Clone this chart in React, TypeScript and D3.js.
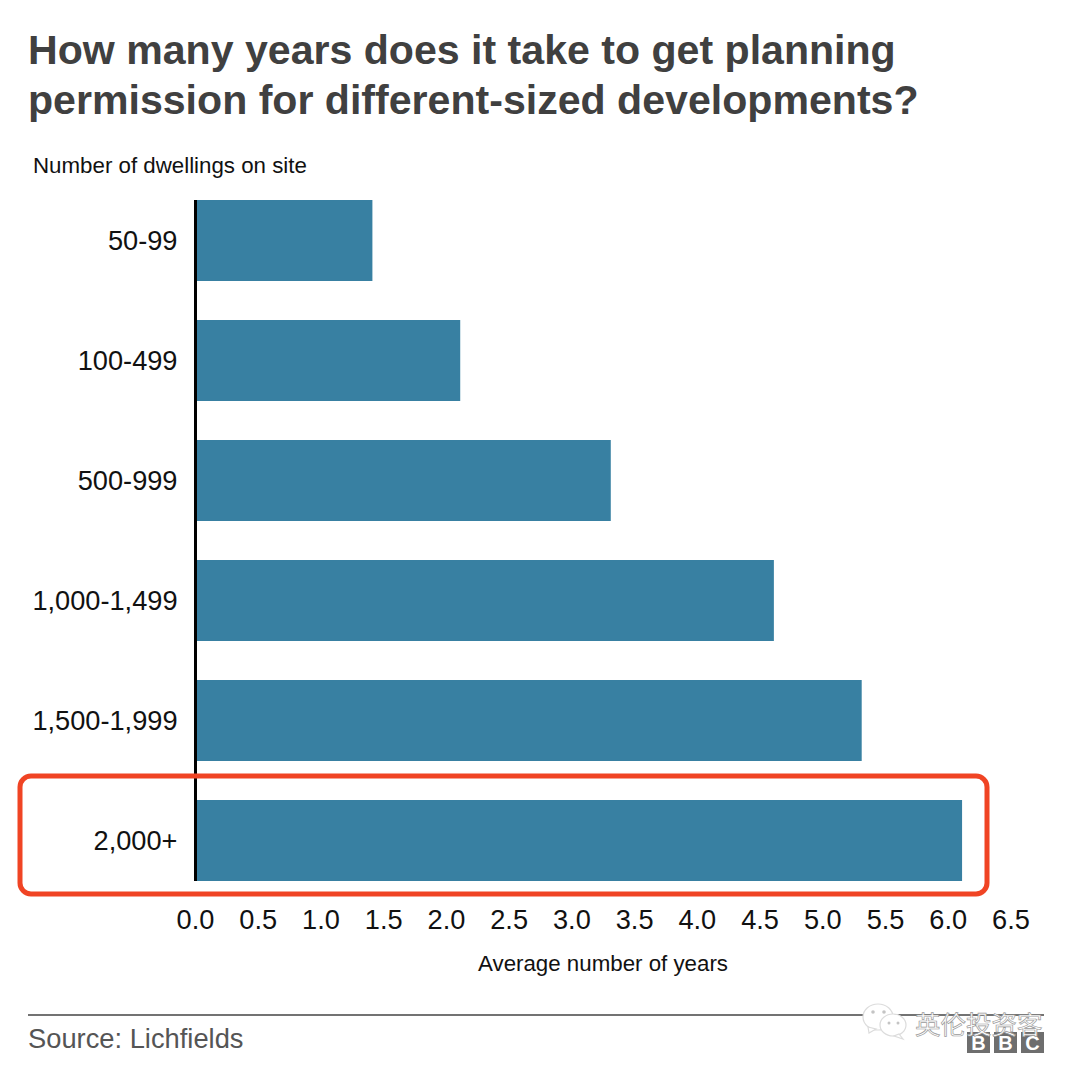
import React from "react";
import * as d3 from "d3";

const categories = ["50-99", "100-499", "500-999", "1,000-1,499", "1,500-1,999", "2,000+"];
const years = [1.41, 2.11, 3.31, 4.61, 5.31, 6.11];
const xTicks = [0, 0.5, 1, 1.5, 2, 2.5, 3, 3.5, 4, 4.5, 5, 5.5, 6, 6.5];
const titleLines = ["How many years does it take to get planning", "permission for different-sized developments?"];
const FONT = "'Liberation Sans', Arial, sans-serif";

export default function App() {
  const x = d3.scaleLinear().domain([0, 6.5]).range([195.5, 1011]);
  const y = d3.scaleBand<string>().domain(categories).range([180.5, 900.5]).paddingInner(39 / 120).paddingOuter(19.5 / 120);
  const fmt = d3.format(".1f");
  return (
    <svg width={1080} height={1071} viewBox="0 0 1080 1071" style={{ position: "absolute", left: 0, top: 0, background: "#fff" }} fontFamily={FONT}>
      {titleLines.map((t, i) => (
        <text key={t} x={28} y={64 + i * 50} fontSize={41.1} fontWeight={700} fill="#404040">{t}</text>
      ))}
      <text x={33} y={173} fontSize={22.3} fill="#111">Number of dwellings on site</text>
      {categories.map((c, i) => (
        <g key={c}>
          <rect x={x(0)} y={y(c)} width={x(years[i]) - x(0)} height={y.bandwidth()} fill="#3880a2" />
          <text x={177.5} y={y(c)! + y.bandwidth() / 2 + 9} textAnchor="end" fontSize={27.2} fill="#111">{c}</text>
        </g>
      ))}
      <line x1={195.5} x2={195.5} y1={200} y2={881} stroke="#000" strokeWidth={3} />
      {xTicks.map((t) => (
        <text key={t} x={x(t)} y={929} textAnchor="middle" fontSize={27.2} fill="#111">{fmt(t)}</text>
      ))}
      <text x={603} y={970.5} textAnchor="middle" fontSize={22.3} fill="#111">Average number of years</text>
      <rect x={20} y={776} width={967} height={118} rx={11} fill="none" stroke="#f04424" strokeWidth={5} />
      <line x1={28} x2={1044} y1={1015} y2={1015} stroke="#444" strokeWidth={1.5} />
      <text x={28} y={1047.5} fontSize={27.3} fill="#555">Source: Lichfields</text>
      <g fill="#6e6e6e">
        {[967, 994, 1021].map((bx) => <rect key={bx} x={bx} y={1032} width={23} height={21} />)}
      </g>
      <g fill="#fff" fontSize={20} fontWeight={700} textAnchor="middle">
        {["B", "B", "C"].map((l, i) => <text key={i} x={978.5 + i * 27} y={1050}>{l}</text>)}
      </g>
      <g fill="#fff" stroke="#dcdcdc" strokeWidth={1.2}>
        <ellipse cx={878} cy={1017} rx={15} ry={13} />
        <path d="M868 1027 L869 1033 L876 1029 Z" />
        <ellipse cx={893} cy={1025} rx={13} ry={11} />
        <path d="M899 1034 L903 1039 L894 1036 Z" />
      </g>
      <g fill="#c4c4c4">
        <circle cx={873} cy={1012} r={1.8} /><circle cx={884} cy={1012} r={1.8} />
        <circle cx={889} cy={1023} r={1.5} /><circle cx={898} cy={1023} r={1.5} />
      </g>
      <text x={915} y={1034} fontFamily="'Noto Sans CJK SC', sans-serif" fontSize={25.5} fill="#fff" stroke="#9a9a9a" strokeWidth={0.7}>英伦投资客</text>
    </svg>
  );
}
